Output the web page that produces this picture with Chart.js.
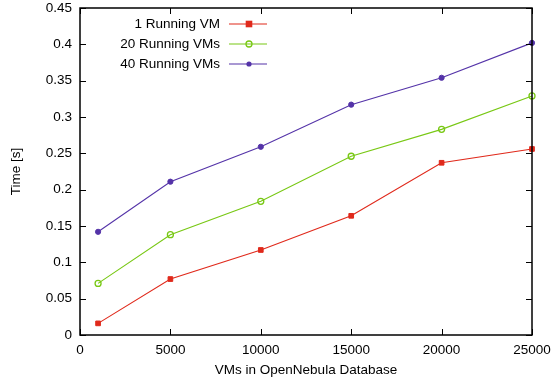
<!DOCTYPE html>
<html>
<head>
<meta charset="utf-8">
<script src="https://cdn.jsdelivr.net/npm/chart.js@4"></script>
<style>
html,body{margin:0;padding:0;background:#fff;}
#wrap{width:553px;height:379px;position:relative;}
</style>
</head>
<body>
<div id="wrap"><canvas id="c" width="553" height="379"></canvas></div>
<script>
const xValues = [1000, 5000, 10000, 15000, 20000, 25000];
const series1 = [0.016, 0.077, 0.117, 0.164, 0.237, 0.256];
const series20 = [0.071, 0.138, 0.184, 0.246, 0.283, 0.329];
const series40 = [0.142, 0.211, 0.259, 0.317, 0.354, 0.402];
const seriesNames = ['1 Running VM', '20 Running VMs', '40 Running VMs'];
const xTicks = [0, 5000, 10000, 15000, 20000, 25000];
const yTicks = [0, 0.05, 0.1, 0.15, 0.2, 0.25, 0.3, 0.35, 0.4, 0.45];

const FONT = '"Liberation Sans", Arial, Helvetica, sans-serif';
const FS = 13.5;
const colors = ['#e0291b', '#78c814', '#5433a8'];
const styles = ['rect', 'circle', 'circle'];
const fills = ['#e0291b', 'rgba(0,0,0,0)', '#5433a8'];
const radii = [3.3, 3, 2.6];
const allSeries = [series1, series20, series40];

const datasets = allSeries.map((s, i) => ({
  label: seriesNames[i],
  data: xValues.map((x, j) => ({x: x, y: s[j]})),
  borderColor: colors[i],
  backgroundColor: fills[i],
  pointBorderColor: colors[i],
  pointBackgroundColor: fills[i],
  pointStyle: styles[i],
  pointRadius: radii[i],
  pointBorderWidth: i === 1 ? 1.3 : 1,
  borderWidth: 1.1,
  tension: 0,
  fill: false,
  clip: 6
}));

const framePlugin = {
  id: 'frame',
  afterDraw(chart) {
    const ctx = chart.ctx;
    const a = chart.chartArea;
    const xs = chart.scales.x, ys = chart.scales.y;
    ctx.save();
    ctx.strokeStyle = '#000';
    ctx.lineWidth = 1;
    ctx.beginPath();
    xTicks.forEach(v => {
      const px = Math.round(xs.getPixelForValue(v)) + 0.5;
      ctx.moveTo(px, a.bottom); ctx.lineTo(px, a.bottom - 6);
      ctx.moveTo(px, a.top); ctx.lineTo(px, a.top + 6);
    });
    yTicks.forEach(v => {
      const py = Math.round(ys.getPixelForValue(v)) + 0.5;
      ctx.moveTo(a.left, py); ctx.lineTo(a.left + 6, py);
      ctx.moveTo(a.right, py); ctx.lineTo(a.right - 6, py);
    });
    ctx.stroke();
    ctx.lineWidth = 1.5;
    ctx.strokeRect(a.left, a.top, a.right - a.left, a.bottom - a.top);
    // legend (gnuplot style: text, then sample)
    ctx.font = FS + 'px ' + FONT;
    ctx.textAlign = 'right';
    ctx.textBaseline = 'middle';
    const textRight = 220, lineL = 229, lineR = 267, mid = 249;
    const rowY = [24, 44, 64];
    seriesNames.forEach((n, i) => {
      const y = rowY[i];
      ctx.fillStyle = '#000';
      ctx.fillText(n, textRight, y);
      ctx.strokeStyle = colors[i];
      ctx.lineWidth = 1.1;
      ctx.beginPath(); ctx.moveTo(lineL, y); ctx.lineTo(lineR, y); ctx.stroke();
      if (i === 0) {
        ctx.fillStyle = colors[i];
        ctx.fillRect(mid - 3.3, y - 3.3, 6.6, 6.6);
      } else if (i === 1) {
        ctx.lineWidth = 1.3;
        ctx.beginPath(); ctx.arc(mid, y, 3, 0, Math.PI * 2); ctx.stroke();
      } else {
        ctx.fillStyle = colors[i];
        ctx.beginPath(); ctx.arc(mid, y, 2.6, 0, Math.PI * 2); ctx.fill();
      }
    });
    ctx.restore();
  }
};

Chart.defaults.font.family = FONT;
Chart.defaults.font.size = FS;
Chart.defaults.color = '#000';

new Chart(document.getElementById('c'), {
  type: 'line',
  data: { datasets: datasets },
  options: {
    responsive: false,
    animation: false,
    devicePixelRatio: 1,
    layout: { padding: { top: 8, right: 21, left: 0, bottom: 0 } },
    plugins: { legend: { display: false }, tooltip: { enabled: false } },
    scales: {
      x: {
        type: 'linear', min: 0, max: 25000,
        afterBuildTicks(s) { s.ticks = xTicks.map(v => ({value: v})); },
        afterFit(s) { s.height = 44; s.paddingLeft = 0; s.paddingRight = 0; },
        grid: { display: false, drawTicks: false },
        border: { display: false },
        ticks: { padding: 7, maxRotation: 0, autoSkip: false, font: {size: FS},
                 callback: v => String(v) },
        title: { display: true, text: 'VMs in OpenNebula Database', font: {size: FS}, padding: {top: 2, bottom: 1} }
      },
      y: {
        type: 'linear', min: 0, max: 0.45,
        afterBuildTicks(s) { s.ticks = yTicks.map(v => ({value: v})); },
        afterFit(s) { s.width = 80; s.paddingTop = 0; s.paddingBottom = 0; },
        grid: { display: false, drawTicks: false },
        border: { display: false },
        ticks: { padding: 8, autoSkip: false, font: {size: FS},
                 callback: v => String(parseFloat(v.toFixed(2))) },
        title: { display: true, text: 'Time [s]', font: {size: FS}, padding: {top: 8, bottom: 0} }
      }
    }
  },
  plugins: [framePlugin]
});
</script>
</body>
</html>
